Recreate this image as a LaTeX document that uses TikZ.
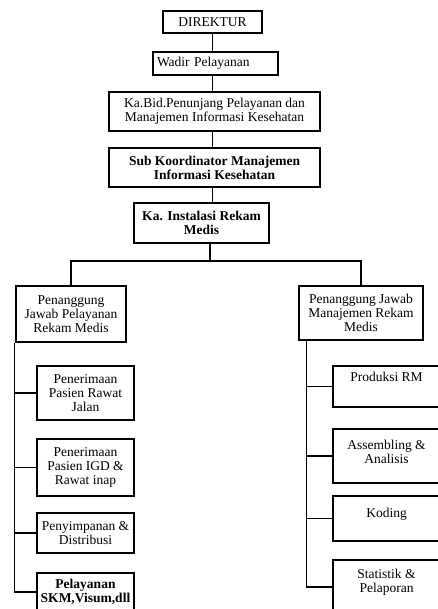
\documentclass[tikz,border=0pt]{standalone}
\usepackage{fontspec}
\setmainfont{Liberation Serif}
\newcommand{\fs}{\fontsize{13.5}{14.2}\selectfont}
\newcommand{\tbx}[4]{\parbox[c][#1][t]{#2}{\centering\rule{0pt}{#3}#4}}
\tikzset{
  box/.style={draw, line width=1.1pt, align=center, inner sep=0pt, font=\fs},
  conn/.style={line width=1.1pt},
}
\begin{document}
\begin{tikzpicture}[x=1pt, y=-1pt]
\useasboundingbox (0,0) rectangle (438,609);
\fill[white] (0,0) rectangle (438,609);
% top chain
\node[box, minimum width=99pt, minimum height=22pt] (dir) at (212.5,22) {DIREKTUR};
\node[box, minimum width=125pt, minimum height=23pt, text width=117pt, align=left] (wadir) at (215.5,63.5) {Wadir Pelayanan};
\node[box, minimum width=211pt, minimum height=39pt] (kabid) at (214.5,111.5) {Ka.Bid.Penunjang Pelayanan dan\\Manajemen Informasi Kesehatan};
\node[box, minimum width=211pt, minimum height=39pt, font=\fs\bfseries] (sub) at (214.5,167.5) {Sub Koordinator Manajemen\\Informasi Kesehatan};
\node[box, minimum width=135pt, minimum height=40pt, font=\fs\bfseries] (kains) at (201.5,223) {Ka. Instalasi Rekam\\Medis};
% second level
\node[box, minimum width=110pt, minimum height=56pt] (lpj) at (71,314) {Penanggung\\Jawab Pelayanan\\Rekam Medis};
\node[box, minimum width=124pt, minimum height=54pt] (rpj) at (361,313) {Penanggung Jawab\\Manajemen Rekam\\Medis};
% left children
\node[box, minimum width=97pt, minimum height=54pt] (l1) at (85.5,393) {Penerimaan\\Pasien Rawat\\Jalan};
\node[box, minimum width=97pt, minimum height=57pt] (l2) at (85.5,467.5) {Penerimaan\\Pasien IGD \&\\Rawat inap};
\node[box, minimum width=97pt, minimum height=40pt] (l3) at (85.5,533) {Penyimpanan \&\\Distribusi};
\node[box, minimum width=97pt, minimum height=38pt, font=\fs\bfseries] (l4) at (85.5,592) {Pelayanan\\SKM,Visum,dll};
% right children
\node[box] (r1) at (386.5,386.5) {\tbx{41pt}{107pt}{15.5pt}{Produksi RM}};
\node[box] (r2) at (386.5,456) {\tbx{54pt}{107pt}{20.5pt}{Assembling \&\\Analisis}};
\node[box] (r3) at (386.5,518.5) {\tbx{45pt}{107pt}{21.5pt}{Koding}};
\node[box] (r4) at (386.5,587) {\tbx{54pt}{107pt}{18.5pt}{Statistik \&\\Pelaporan}};
% connectors
\draw[conn] (dir.south) -- (dir.south |- wadir.north);
\draw[conn] (wadir.south -| dir.south) -- (kabid.north -| dir.south);
\draw[conn] (kabid.south -| dir.south) -- (sub.north -| dir.south);
\draw[conn] (sub.south -| dir.south) -- (kains.north -| dir.south);
\coordinate (bar) at (210,261);
\draw[conn] (kains.south -| bar) -- (bar);
\draw[conn] (lpj.north) |- (bar) -| (rpj.north);
\coordinate (lt) at ([xshift=-1pt]lpj.south west);
\draw[conn] (lt) |- (l4.west);
\foreach \n in {l1,l2,l3} \draw[conn] (lt |- \n.west) -- (\n.west);
\coordinate (rt) at ([xshift=8pt]rpj.south west);
\draw[conn] (rt) |- (r4.west);
\foreach \n in {r1,r2,r3} \draw[conn] (rt |- \n.west) -- (\n.west);
\end{tikzpicture}
\end{document}
